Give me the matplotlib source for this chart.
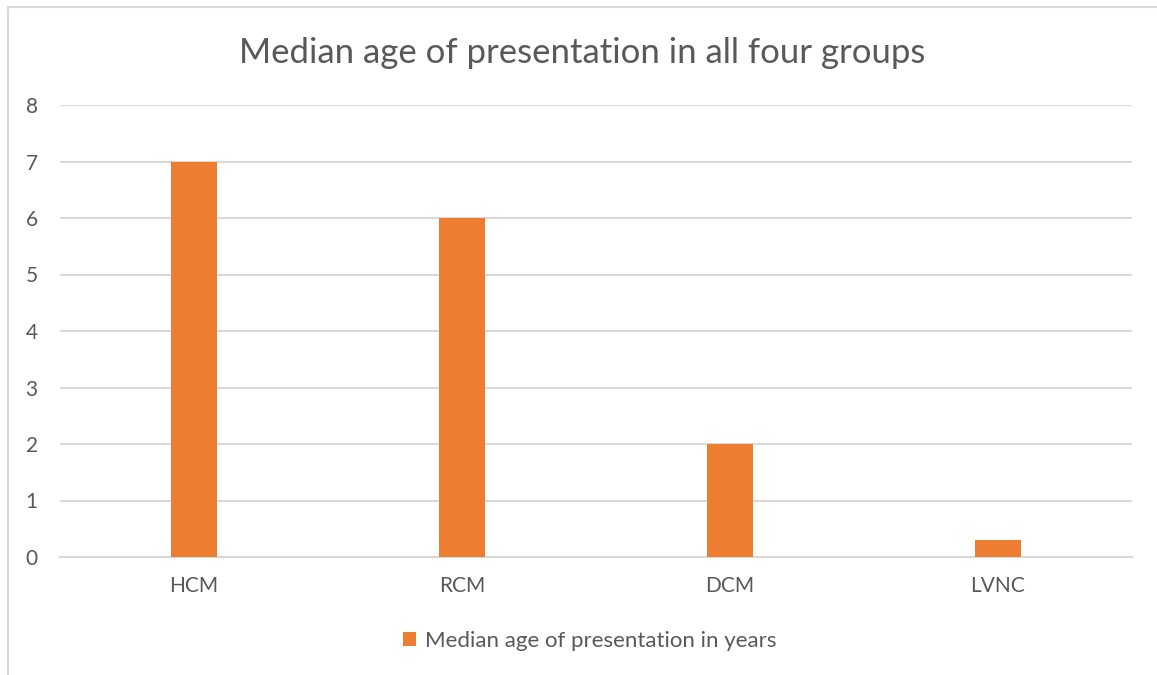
import matplotlib
matplotlib.use("Agg")
import matplotlib.pyplot as plt
from matplotlib.patches import Patch
from matplotlib.lines import Line2D

categories = ["HCM", "RCM", "DCM", "LVNC"]
median_age_years = [7, 6, 2, 0.3]
y_ticks = [0, 1, 2, 3, 4, 5, 6, 7, 8]
series_label = "Median age of presentation in years"
title = "Median age of presentation in all four groups"

bar_color = "#ED7D31"
text_color = "#595959"
grid_color = "#D9D9D9"

plt.rcParams["font.family"] = ["Lato", "DejaVu Sans"]

W, H = 1157, 675
fig = plt.figure(figsize=(W / 100, H / 100), dpi=100)

# chart area frame (top and left edges)
fig.add_artist(Line2D([8 / W, 8 / W], [0, 1 - 7 / H], color=grid_color, lw=1.5))
fig.add_artist(Line2D([8 / W, 1], [1 - 7 / H, 1 - 7 / H], color=grid_color, lw=1.5))

left, right = 60 / W, 1132 / W
bottom, top = 1 - 557 / H, 1 - 105 / H
ax = fig.add_axes([left, bottom, right - left, top - bottom])

x = list(range(len(categories)))
ax.bar(x, median_age_years, width=0.17, color=bar_color, zorder=3)

ax.set_xlim(-0.5, len(categories) - 0.5)
ax.set_ylim(0, 8)
ax.set_yticks(y_ticks)
ax.set_xticks(x)
ax.set_xticklabels(categories)
ax.yaxis.grid(True, color=grid_color, lw=1.5, zorder=0)
for s in ["top", "right", "left"]:
    ax.spines[s].set_visible(False)
ax.spines["bottom"].set_color(grid_color)
ax.spines["bottom"].set_linewidth(1.5)
ax.tick_params(axis="both", length=0, labelsize=15, colors=text_color)
ax.tick_params(axis="y", pad=16)
ax.tick_params(axis="x", pad=14)

fig.text(0.5 * (8 / W + 1), 1 - 53 / H, title, ha="center", va="center",
         fontsize=25, color=text_color)

handle = Patch(facecolor=bar_color, edgecolor="none")
fig.legend([handle], [series_label], loc="center", bbox_to_anchor=(590 / W, 1 - 641 / H),
           frameon=False, fontsize=16, labelcolor=text_color,
           handlelength=0.6, handleheight=0.6, handletextpad=0.4)

fig.savefig("out.png", dpi=100, facecolor="white")
